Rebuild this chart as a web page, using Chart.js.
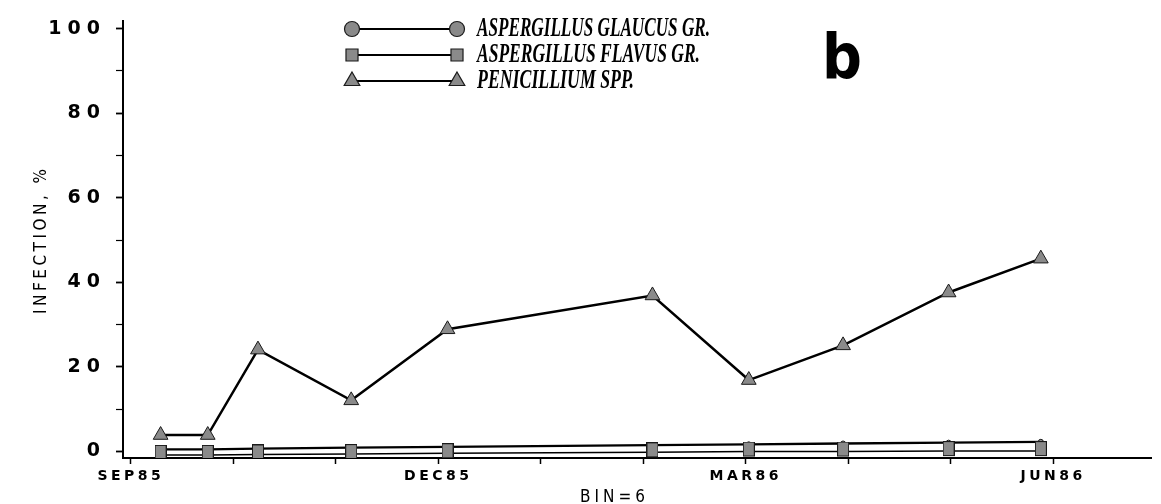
<!DOCTYPE html>
<html>
<head>
<meta charset="utf-8">
<script src="https://cdn.jsdelivr.net/npm/chart.js"></script>
<style>
  html, body { margin: 0; padding: 0; background: #fff; }
  #wrap { width: 1161px; height: 504px; position: relative; }
</style>
</head>
<body>
<div id="wrap"><canvas id="c" width="1161" height="504"></canvas></div>
<script>
// ---- data (x = months after 1 Sep 1985) ----
const monthLabels = ['SEP85', '', '', 'DEC85', '', '', 'MAR86', '', '', 'JUN86'];
const sampleMonths = [0.29, 0.75, 1.24, 2.15, 3.09, 5.09, 6.03, 6.95, 7.98, 8.88];
const glaucus     = [0.5, 0.5, 0.7, 0.9, 1.1, 1.5, 1.7, 1.9, 2.1, 2.3];
const flavus      = [-0.8, -0.8, -0.7, -0.6, -0.4, -0.2, 0.0, 0.0, 0.1, 0.1];
const penicillium = [3.9, 3.9, 24.1, 12.1, 28.9, 36.9, 16.9, 25.1, 37.6, 45.6];
const seriesNames = ['ASPERGILLUS GLAUCUS GR.', 'ASPERGILLUS FLAVUS GR.', 'PENICILLIUM SPP.'];
const yTitle = 'INFECTION, %';
const xTitle = 'BIN=6';
const panelLetter = 'b';

const pts = (ys) => sampleMonths.map((x, i) => ({ x: x, y: ys[i] }));
const FILL = '#8a8a8a', EDGE = '#1a1a1a';

// tall square marker image (covers the two close baseline series)
function makeSquareMarker() {
  const c = document.createElement('canvas');
  c.width = 12; c.height = 20;
  const g = c.getContext('2d');
  g.fillStyle = FILL;
  g.fillRect(0.5, 0.5, 11, 14);
  g.strokeStyle = EDGE; g.lineWidth = 1;
  g.strokeRect(0.5, 0.5, 11, 14);
  return c;
}
const squareMarker = makeSquareMarker();

// letter spacing for scale text
const spacingPlugin = {
  id: 'spacing',
  beforeDraw(chart) {
    const cfg = { x: { drawLabels: '3.5px' }, y: { drawLabels: '6px', drawTitle: '3.5px' } };
    Object.keys(cfg).forEach(id => {
      const s = chart.scales[id];
      if (!s || s._spPatched) return;
      s._spPatched = true;
      Object.keys(cfg[id]).forEach(name => {
        const orig = s[name];
        const sp = cfg[id][name];
        s[name] = function () {
          const ctx = this.ctx;
          ctx.save();
          ctx.letterSpacing = sp;
          orig.apply(this, arguments);
          ctx.restore();
        };
      });
    });
  }
};

function marker(ctx, style, r, x, y) {
  ctx.beginPath();
  if (style === 'circle') {
    ctx.arc(x, y, r, 0, Math.PI * 2);
  } else if (style === 'rect') {
    const h = r * Math.SQRT1_2;
    ctx.rect(x - h, y - h, 2 * h, 2 * h);
  } else {
    ctx.moveTo(x, y - r);
    ctx.lineTo(x + r * Math.sin(Math.PI * 2 / 3), y + r / 2);
    ctx.lineTo(x - r * Math.sin(Math.PI * 2 / 3), y + r / 2);
    ctx.closePath();
  }
  ctx.fillStyle = FILL; ctx.fill();
  ctx.lineWidth = 1.2; ctx.strokeStyle = EDGE; ctx.stroke();
}

// legend block, panel letter and x title
const annotPlugin = {
  id: 'annot',
  afterDraw(chart) {
    const ctx = chart.ctx;
    ctx.save();
    ctx.letterSpacing = '0px';
    const rows = [29, 55, 81];
    const targetW = [233, 223, 157];
    const legendStyle = ['circle', 'rect', 'triangle'];
    const legendR = { circle: 7.5, rect: 8.5, triangle: 9 };
    [0, 1, 2].forEach((di, k) => {
      const ds = chart.data.datasets[di];
      const y = rows[k];
      const st = legendStyle[k];
      ctx.beginPath();
      ctx.moveTo(352, y); ctx.lineTo(457, y);
      ctx.lineWidth = 2.2; ctx.strokeStyle = '#000'; ctx.stroke();
      marker(ctx, st, legendR[st], 352, y);
      marker(ctx, st, legendR[st], 457, y);
      ctx.font = 'italic bold 28px "Liberation Serif", "DejaVu Serif", serif';
      ctx.textBaseline = 'middle';
      ctx.textAlign = 'left';
      const w = ctx.measureText(ds.label).width;
      ctx.save();
      ctx.translate(477, y);
      ctx.scale(targetW[k] / w, 1);
      ctx.fillStyle = '#000';
      ctx.fillText(ds.label, 0, 0);
      ctx.restore();
    });
    // panel letter
    ctx.font = 'bold 62px "Liberation Sans Narrow", "DejaVu Sans Condensed", "Liberation Sans", sans-serif';
    ctx.textAlign = 'center';
    ctx.textBaseline = 'alphabetic';
    ctx.fillStyle = '#000';
    ctx.fillText(panelLetter, 842, 78);
    // x title
    ctx.font = '17px "Liberation Sans Narrow", "DejaVu Sans Condensed", "Liberation Sans", sans-serif';
    ctx.letterSpacing = '4px';
    ctx.textAlign = 'left';
    ctx.fillText(xTitle, 580, 502);
    ctx.restore();
  }
};

new Chart(document.getElementById('c'), {
  type: 'line',
  data: {
    datasets: [
      { label: seriesNames[0], data: pts(glaucus), pointStyle: 'circle', pointRadius: 2.5,
        borderColor: '#000', borderWidth: 2.3, pointBackgroundColor: FILL, pointBorderColor: EDGE,
        pointBorderWidth: 1, tension: 0, order: 2 },
      { label: seriesNames[1], data: pts(flavus), pointStyle: squareMarker, pointRadius: 7,
        borderColor: '#000', borderWidth: 1.5, pointBackgroundColor: FILL, pointBorderColor: EDGE,
        pointBorderWidth: 1, tension: 0, order: 1 },
      { label: seriesNames[2], data: pts(penicillium), pointStyle: 'triangle', pointRadius: 8.5,
        borderColor: '#000', borderWidth: 2.5, pointBackgroundColor: FILL, pointBorderColor: EDGE,
        pointBorderWidth: 1, tension: 0, order: 0 }
    ]
  },
  options: {
    responsive: false,
    animation: false,
    events: [],
    layout: { padding: { top: 20, right: 0, left: 0, bottom: 0 } },
    plugins: { legend: { display: false }, title: { display: false }, tooltip: { enabled: false } },
    scales: {
      x: {
        type: 'linear',
        min: -0.077, max: 9.96,
        offset: false,
        afterFit: (s) => { s.height = 46; },
        border: { color: '#000', width: 2 },
        grid: { drawOnChartArea: false, drawTicks: true, tickLength: 6, color: '#000', tickWidth: 1.5 },
        ticks: {
          stepSize: 1, includeBounds: false, autoSkip: false, maxRotation: 0, padding: 4,
          color: '#000',
          font: { family: '"DejaVu Sans", sans-serif', weight: 'bold', size: 14 },
          callback: (v) => monthLabels[Math.round(v)] || ''
        }
      },
      y: {
        type: 'linear',
        min: -1.53, max: 101.7,
        afterFit: (s) => { s.width = 123; },
        border: { color: '#000', width: 2 },
        grid: { drawOnChartArea: false, drawTicks: true, tickLength: 7, color: '#000',
                tickWidth: (c) => (c.tick && c.tick.value % 20 === 0) ? 1.8 : 1.2 },
        title: {
          display: true, text: yTitle, color: '#000',
          font: { family: '"Liberation Sans Narrow", "DejaVu Sans Condensed", "Liberation Sans", sans-serif', size: 17 },
          padding: { top: 31, bottom: 0 }
        },
        ticks: {
          stepSize: 10, includeBounds: false, padding: 10, color: '#000',
          font: { family: '"DejaVu Sans", sans-serif', weight: 'bold', size: 19 },
          callback: (v) => (v % 20 === 0 ? String(v) : '')
        }
      }
    }
  },
  plugins: [spacingPlugin, annotPlugin]
});
</script>
</body>
</html>
